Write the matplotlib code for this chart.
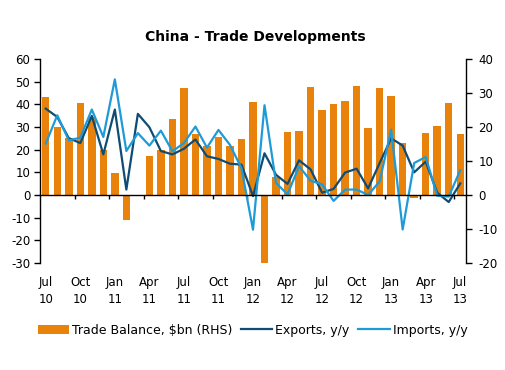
import matplotlib
matplotlib.use('Agg')
import matplotlib.pyplot as plt
import numpy as np

# monthly, Jul 2010 - Jul 2013
trade_balance = [28.7, 20.0, 16.9, 27.2, 22.9, 13.1, 6.5, -7.3, 0.14, 11.4, 13.1, 22.3,
                 31.5, 17.8, 14.5, 17.0, 14.5, 16.5, 27.3, -31.5, 5.35, 18.4, 18.7, 31.7,
                 25.1, 26.7, 27.7, 32.0, 19.6, 31.6, 29.2, 15.3, -0.9, 18.2, 20.4, 27.1, 17.8]
exports = [38.1, 34.4, 25.1, 22.9, 34.9, 17.9, 37.7, 2.4, 35.8, 29.9, 19.4, 17.9,
           20.4, 24.5, 17.1, 15.9, 13.8, 13.4, -0.5, 18.4, 8.9, 4.9, 15.3, 11.3,
           1.0, 2.7, 9.9, 11.6, 2.9, 14.1, 25.0, 21.8, 10.0, 14.7, 1.0, -3.1, 5.1]
imports = [22.7, 35.2, 24.1, 25.3, 37.7, 25.6, 51.0, 19.4, 27.3, 21.8, 28.4, 19.3,
           22.9, 30.2, 20.9, 28.7, 22.1, 11.8, -15.3, 39.6, 5.3, 0.3, 12.7, 6.3,
           4.7, -2.6, 2.4, 2.4, 0.0, 6.0, 28.8, -15.2, 14.1, 16.8, -0.3, -0.7, 10.9]
tick_labels = ['Jul\n10', 'Oct\n10', 'Jan\n11', 'Apr\n11', 'Jul\n11', 'Oct\n11', 'Jan\n12',
               'Apr\n12', 'Jul\n12', 'Oct\n12', 'Jan\n13', 'Apr\n13', 'Jul\n13']

orange = '#E8820A'
dark_blue = '#0F4C75'
light_blue = '#1E9BD7'

plt.rcParams['font.family'] = 'DejaVu Sans'
plt.rcParams['font.size'] = 8.5
plt.rcParams['axes.unicode_minus'] = False

x = np.arange(len(trade_balance))

fig = plt.figure(figsize=(5.05, 3.70), dpi=100)
ax = fig.add_axes([40 / 505, (370 - 263) / 370, (466 - 40) / 505, (263 - 59) / 370])
ax2 = ax.twinx()

bars = ax2.bar(x, trade_balance, width=0.65, color=orange, label='Trade Balance, $bn (RHS)')
l1, = ax.plot(x, exports, color=dark_blue, lw=1.6, label='Exports, y/y')
l2, = ax.plot(x, imports, color=light_blue, lw=1.6, label='Imports, y/y')

ax.set_zorder(ax2.get_zorder() + 1)
ax.patch.set_visible(False)

ax.set_ylim(-30, 60)
ax2.set_ylim(-20, 40)
ax.set_xlim(-0.5, 36.5)
ax.set_yticks(np.arange(-30, 61, 10))
ax2.set_yticks(np.arange(-20, 41, 10))

for a in (ax, ax2):
    a.spines['top'].set_visible(False)
    a.spines['bottom'].set_visible(False)
ax.spines['right'].set_visible(False)
ax2.spines['left'].set_visible(False)

# zero line with the month ticks
ax.spines['bottom'].set_visible(True)
ax.spines['bottom'].set_position(('data', 0))
ax.spines['bottom'].set_linewidth(1.0)
ax.set_xticks(np.arange(0, 37, 3))
ax.set_xticklabels(tick_labels, linespacing=1.4)
ax.set_xticks(np.arange(2.5, 36, 3), minor=True)
ax.tick_params(axis='x', which='major', length=0, pad=58)
ax.tick_params(axis='x', which='minor', length=3, direction='out', width=1)

ax.tick_params(axis='y', length=4, width=1, pad=3)
ax2.tick_params(axis='y', length=4, width=1, pad=5)
ax.spines['left'].set_linewidth(1.0)
ax2.spines['right'].set_linewidth(1.0)

fig.suptitle('China - Trade Developments', x=0.505, y=0.918, fontsize=10, fontweight='bold')

fig.legend([bars, l1, l2], ['Trade Balance, $bn (RHS)', 'Exports, y/y', 'Imports, y/y'],
           loc='center', bbox_to_anchor=(0.5, 0.108), ncol=3, frameon=False, fontsize=9,
           handlelength=2.5, handletextpad=0.25, columnspacing=0.7, handleheight=0.7)

fig.savefig('out.png', dpi=100)
